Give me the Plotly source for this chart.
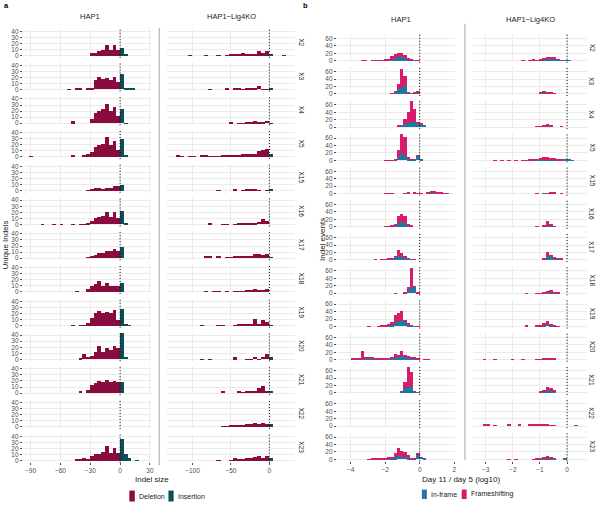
import plotly.graph_objects as go
from plotly.subplots import make_subplots

ROWS = ["X2", "X3", "X4", "X5", "X15", "X16", "X17", "X18", "X19", "X20", "X21", "X22", "X23"]
COL_TITLES = ["HAP1", "HAP1\u2212Lig4KO"]

# bin widths (data units) per column
A_BW_HAP1 = 3.8
A_BW_LIG = 5.3
B_BW_HAP1 = 0.19
B_BW_LIG = 0.13

# ---------------- Panel a: indel size histograms ----------------
# deletion lists: bin k covers [-(k+1)*bw, -k*bw]; insertion lists: bin j covers [j*bw, (j+1)*bw]
A_DEL_HAP1 = {
    "X2": [10, 18, 10, 18, 10, 7, 5, 4],
    "X3": [12, 20, 15, 19, 18, 20, 15, 3, 3, 0, 2, 3, 0, 1],
    "X4": [11, 26, 20, 31, 24, 20, 17, 7, 0, 0, 0, 0, 3],
    "X5": [12, 26, 20, 33, 22, 20, 17, 8, 5, 3, 0, 0, 2, 0, 0, 0, 0, 0, 0, 0, 0, 0, 0, 1],
    "X15": [8, 7, 5, 4, 3, 5, 5, 2, 1],
    "X16": [10, 20, 12, 20, 14, 12, 10, 6, 3, 1, 1, 0, 1, 0, 0, 1, 0, 1, 0, 0, 1],
    "X17": [12, 15, 12, 11, 9, 8, 5, 3, 1],
    "X18": [9, 9, 10, 15, 10, 18, 13, 10, 4, 0, 0, 1],
    "X19": [10, 25, 20, 23, 20, 24, 21, 13, 4, 1, 1, 0, 1],
    "X20": [18, 22, 15, 18, 12, 22, 12, 6, 4, 9, 2],
    "X21": [19, 20, 18, 22, 19, 20, 17, 13, 5, 0, 4],
    "X22": [],
    "X23": [12, 20, 12, 24, 14, 10, 10, 8, 2, 4, 2, 2],
}
A_INS_HAP1 = {
    "X2": [12, 2], "X3": [25, 3, 3, 2], "X4": [23, 1], "X5": [30, 3], "X15": [9],
    "X16": [22, 2], "X17": [18], "X18": [14], "X19": [27, 3, 1], "X20": [43, 4],
    "X21": [18], "X22": [], "X23": [36, 10, 5, 0, 1],
}
A_DEL_LIG = {
    "X2": [8, 4, 7, 3, 3, 2, 4, 3, 3, 2, 1, 0, 1, 0, 0, 1, 0, 0, 0, 1],
    "X3": [1, 1, 5, 3, 2, 2, 1, 2, 2, 0, 2, 0, 0, 0, 1],
    "X4": [4, 2, 2, 3, 2, 2, 1, 1, 0, 2],
    "X5": [13, 11, 9, 5, 4, 4, 4, 3, 3, 2, 2, 2, 1, 1, 1, 2, 2, 0, 1, 1, 0, 1, 2],
    "X15": [1, 0, 1, 2, 2, 2, 1, 0, 2, 0, 0, 0, 1],
    "X16": [5, 9, 4, 3, 3, 2, 2, 2, 1, 0, 1, 1, 0, 0, 2],
    "X17": [7, 5, 6, 6, 4, 3, 2, 2, 2, 1, 1, 0, 2, 0, 2, 2],
    "X18": [4, 3, 3, 5, 2, 2, 1, 1, 1, 0, 1, 0, 1, 1, 0, 1],
    "X19": [6, 10, 3, 11, 3, 3, 2, 2, 1, 0, 0, 1, 1, 0, 0, 0, 1],
    "X20": [8, 4, 1, 4, 1, 1, 0, 0, 3, 0, 0, 0, 0, 0, 1, 0, 1],
    "X21": [4, 11, 9, 4, 2, 2, 1, 4, 0, 0, 0, 2],
    "X22": [5, 7, 5, 7, 4, 4, 3, 3, 2, 2, 1, 1],
    "X23": [7, 5, 8, 6, 4, 4, 3, 3, 4, 1, 0, 0, 1],
}
A_INS_LIG = {
    "X2": [2, 0, 0, 1], "X3": [2], "X4": [1], "X5": [4], "X15": [2], "X16": [],
    "X17": [1], "X18": [], "X19": [1], "X20": [3], "X21": [3], "X22": [5], "X23": [5],
}

# ---------------- Panel b: day11/day5 ratio histograms ----------------
# *_NEG: bin k covers [-(k+1)*bw, -k*bw]; *_POS: bin j covers [j*bw, (j+1)*bw]
B_INF_HAP1_NEG = {
    "X2": [0, 1, 1, 3, 8, 10, 9, 6, 3, 1, 1],
    "X3": [4, 1, 1, 1, 20, 17, 12, 2],
    "X4": [8, 15, 15, 12, 8, 2, 1],
    "X5": [13, 2, 2, 4, 12, 20, 8, 1],
    "X15": [0, 1, 0, 2],
    "X16": [0, 0, 1, 2, 10, 12, 10, 2, 1],
    "X17": [0, 0, 1, 2, 7, 9, 10, 4, 2, 1],
    "X18": [1, 18, 16, 8, 1],
    "X19": [0, 1, 2, 5, 12, 16, 15, 10, 5, 2, 1, 1],
    "X20": [1, 3, 4, 5, 6, 10, 6, 5, 3, 2, 1, 1, 1, 2, 2, 2, 2, 3, 1, 1, 1],
    "X21": [1, 2, 18, 15, 12, 2],
    "X22": [],
    "X23": [15, 3, 1, 4, 6, 7, 8, 5, 2, 2, 1, 1, 0, 1],
}
B_FS_HAP1_NEG = {
    "X2": [1, 0, 1, 2, 7, 12, 12, 13, 9, 2, 4, 1, 1, 1, 1, 0, 1, 1],
    "X3": [1, 1, 0, 2, 27, 51, 16, 3, 1],
    "X4": [2, 34, 55, 28, 14, 2, 1],
    "X5": [1, 1, 2, 6, 51, 50, 19, 2, 1, 1, 1],
    "X15": [1, 1, 0, 1, 1, 0, 0, 0, 1, 1, 1],
    "X16": [0, 0, 1, 4, 20, 22, 20, 3, 2, 1, 1],
    "X17": [0, 1, 0, 1, 3, 11, 17, 6, 2, 1, 1, 1, 0, 1],
    "X18": [1, 2, 53, 9, 1, 0, 0, 1],
    "X19": [1, 0, 1, 3, 6, 27, 22, 21, 7, 3, 1, 1, 1, 0, 0, 1],
    "X20": [1, 2, 4, 3, 6, 12, 6, 10, 5, 1, 2, 2, 2, 2, 3, 3, 4, 20, 2, 1, 1],
    "X21": [0, 1, 39, 54, 17, 1],
    "X22": [],
    "X23": [1, 1, 2, 8, 14, 15, 23, 11, 5, 4, 2, 2, 2, 1, 2, 1],
}
B_INF_HAP1_POS = {
    "X2": [], "X3": [], "X4": [7, 5], "X5": [2], "X15": [0, 0, 1, 2, 2, 1],
    "X16": [], "X17": [], "X18": [], "X19": [], "X20": [], "X21": [], "X22": [], "X23": [6, 2],
}
B_FS_HAP1_POS = {
    "X2": [], "X3": [], "X4": [1, 0], "X5": [0], "X15": [1, 0, 3, 4, 3, 2, 2, 1, 1],
    "X16": [], "X17": [], "X18": [], "X19": [], "X20": [0, 1, 1], "X21": [], "X22": [], "X23": [1, 0],
}
B_INF_LIG_NEG = {
    "X2": [1, 0, 2, 5, 6, 5, 2, 1],
    "X3": [0, 0, 0, 0, 1, 1, 2, 1],
    "X4": [0, 0, 0, 0, 1, 2, 1],
    "X5": [3, 1, 1, 3, 3, 4, 3, 2, 2, 1, 1],
    "X15": [0, 0, 0, 1, 1, 0, 1],
    "X16": [0, 0, 0, 0, 3, 3, 1],
    "X17": [0, 1, 2, 4, 7, 10, 1],
    "X18": [0, 0, 1, 2, 3, 2, 1],
    "X19": [0, 0, 0, 1, 3, 7, 4, 1, 1],
    "X20": [0, 0, 0, 1, 1, 1, 1],
    "X21": [0, 0, 0, 2, 6, 8, 4, 1],
    "X22": [0, 0, 0, 0, 0, 0, 1, 1, 1, 0, 1, 0, 0, 0, 0, 0, 0, 0, 0, 0, 0, 0, 1, 1],
    "X23": [3, 0, 0, 2, 3, 4, 3, 2, 1],
}
B_FS_LIG_NEG = {
    "X2": [0, 1, 1, 3, 5, 4, 3, 1, 1, 2, 1, 0, 1],
    "X3": [0, 0, 0, 1, 1, 1, 3, 4],
    "X4": [0, 1, 0, 0, 2, 4, 2, 1, 1],
    "X5": [0, 1, 2, 3, 4, 5, 5, 3, 2, 1, 1, 1, 1, 0, 1, 0, 1, 0, 1, 0, 1],
    "X15": [0, 1, 0, 1, 1, 1, 0, 0, 1],
    "X16": [0, 0, 0, 1, 5, 13, 1, 0, 1],
    "X17": [0, 1, 2, 4, 6, 12, 1],
    "X18": [0, 0, 1, 2, 5, 3, 1, 1, 1, 0, 0, 1],
    "X19": [0, 0, 1, 2, 3, 7, 4, 2, 1, 0, 0, 2],
    "X20": [0, 0, 0, 1, 1, 1, 1, 1, 1, 0, 0, 0, 1, 0, 0, 1, 0, 0, 0, 0, 1, 0, 0, 1],
    "X21": [0, 0, 0, 3, 6, 9, 4, 1],
    "X22": [0, 0, 0, 1, 1, 2, 1, 2, 2, 2, 1, 0, 0, 2, 0, 0, 2, 0, 0, 0, 1, 0, 4, 5],
    "X23": [0, 0, 0, 2, 4, 5, 4, 2, 2, 1, 0, 0, 0, 0, 1, 0, 1],
}
B_INF_LIG_POS = {
    "X2": [1], "X3": [], "X4": [], "X5": [3, 1], "X15": [], "X16": [], "X17": [],
    "X18": [], "X19": [], "X20": [], "X21": [], "X22": [], "X23": [],
}
B_FS_LIG_POS = {
    "X2": [0], "X3": [], "X4": [], "X5": [0, 0], "X15": [], "X16": [], "X17": [],
    "X18": [], "X19": [], "X20": [], "X21": [], "X22": [0, 0, 1], "X23": [],
}

# ---------------- styling ----------------
C_DEL = "#8a0b3e"
C_INS = "#0e4d5a"
C_INF = "#1c7aa0"
C_FS = "#d81b6b"
GRID = "#ebebeb"
TICKC = "#4d4d4d"
TXT = "#1a1a1a"
FONT = "Liberation Sans"
W, H = 600, 505

COL_X_PX = [(23.5, 152.0), (168.0, 296.7), (339.0, 457.0), (475.7, 590.0)]
COL_XRANGE = [(-97.2, 31.3), (-133.0, 33.6), (-4.78, 2.03), (-3.46, 0.74)]
COL_XTICKS = [[-90, -60, -30, 0, 30], [-100, -50, 0], [-4, -2, 0, 2], [-3, -2, -1, 0]]
A_YR = (-2.15, 44.1)
B_YR = (-3.4, 72.0)


def fmt(v):
    return ("\u2212" + str(abs(v))) if v < 0 else str(v)


def row_px(col, r):
    if col < 2:
        base = 55.0 + 33.94 * r
        return base - 26.8, base + 1.3
    base = 60.0 + 33.42 * r
    return base - 26.8, base + 1.26


def centers(n, bw, sign):
    return [sign * (k + 0.5) * bw for k in range(n)]


def ann(px, py, text, size=7, angle=0, xanchor="center", color=TXT):
    return dict(x=px / W, y=1 - py / H, xref="paper", yref="paper", text=text,
                showarrow=False, textangle=angle, xanchor=xanchor, yanchor="middle",
                font=dict(size=size, color=color, family=FONT))


fig = make_subplots(rows=13, cols=4, horizontal_spacing=0.01, vertical_spacing=0.002)

shapes = []
annotations = []

for r, name in enumerate(ROWS):
    for c in range(4):
        n = r * 4 + c + 1
        xa = "xaxis" if n == 1 else f"xaxis{n}"
        ya = "yaxis" if n == 1 else f"yaxis{n}"
        xr = "x" if n == 1 else f"x{n}"
        yr = "y" if n == 1 else f"y{n}"

        if c == 0:
            dl, il, bw = A_DEL_HAP1[name], A_INS_HAP1[name], A_BW_HAP1
        elif c == 1:
            dl, il, bw = A_DEL_LIG[name], A_INS_LIG[name], A_BW_LIG
        if c < 2:
            fig.add_trace(go.Bar(x=centers(len(dl), bw, -1), y=dl, width=bw,
                                 marker=dict(color=C_DEL, line=dict(width=0)),
                                 showlegend=False, name="Deletion"), row=r + 1, col=c + 1)
            fig.add_trace(go.Bar(x=centers(len(il), bw, 1), y=il, width=bw,
                                 marker=dict(color=C_INS, line=dict(width=0)),
                                 showlegend=False, name="Insertion"), row=r + 1, col=c + 1)
        else:
            if c == 2:
                inn, fsn = B_INF_HAP1_NEG[name], B_FS_HAP1_NEG[name]
                inp, fsp = B_INF_HAP1_POS[name], B_FS_HAP1_POS[name]
                bw = B_BW_HAP1
            else:
                inn, fsn = B_INF_LIG_NEG[name], B_FS_LIG_NEG[name]
                inp, fsp = B_INF_LIG_POS[name], B_FS_LIG_POS[name]
                bw = B_BW_LIG
            nn = max(len(inn), len(fsn))
            npos = max(len(inp), len(fsp))
            inn = list(inn) + [0] * (nn - len(inn))
            fsn = list(fsn) + [0] * (nn - len(fsn))
            inp = list(inp) + [0] * (npos - len(inp))
            fsp = list(fsp) + [0] * (npos - len(fsp))
            xs = centers(nn, bw, -1) + centers(npos, bw, 1)
            fig.add_trace(go.Bar(x=xs, y=inn + inp, width=bw,
                                 marker=dict(color=C_INF, line=dict(width=0)),
                                 showlegend=False, name="In-frame"), row=r + 1, col=c + 1)
            fig.add_trace(go.Bar(x=xs, y=fsn + fsp, width=bw,
                                 marker=dict(color=C_FS, line=dict(width=0)),
                                 showlegend=False, name="Frameshifting"), row=r + 1, col=c + 1)

        top, bot = row_px(c, r)
        x0, x1 = COL_X_PX[c]
        bottom_row = (r == len(ROWS) - 1)
        fig.layout[xa].update(
            domain=[x0 / W, x1 / W], range=list(COL_XRANGE[c]),
            tickvals=COL_XTICKS[c], ticktext=[fmt(v) for v in COL_XTICKS[c]],
            showticklabels=bottom_row, ticks="outside" if bottom_row else "",
            ticklen=2.5, tickwidth=0.6, tickcolor=TICKC,
            tickfont=dict(size=6.5, color=TICKC, family=FONT),
            showgrid=True, gridcolor=GRID, gridwidth=0.8, zeroline=False, showline=False,
            fixedrange=True,
        )
        yt = [0, 10, 20, 30, 40] if c < 2 else [0, 20, 40, 60]
        show_y = c in (0, 2)
        fig.layout[ya].update(
            domain=[1 - bot / H, 1 - top / H], range=list(A_YR if c < 2 else B_YR),
            tickvals=yt, showticklabels=show_y, ticks="outside" if show_y else "",
            ticklen=2.5, tickwidth=0.6, tickcolor=TICKC,
            tickfont=dict(size=6.5, color=TICKC, family=FONT),
            showgrid=True, gridcolor=GRID, gridwidth=0.8, zeroline=False, showline=False,
            fixedrange=True,
        )
        # dotted zero line
        shapes.append(dict(type="line", xref=xr, yref=f"{yr} domain", x0=0, x1=0, y0=-0.03, y1=1.03,
                           line=dict(color="black", width=1, dash="1px,2px"), layer="above"))

    # strip labels
    for c, sx in ((1, 303.0), (3, 595.0)):
        top, bot = row_px(c, r)
        annotations.append(ann(sx, (top + bot) / 2, name, size=6.5, angle=90))

# column titles
for c, (tx, ty) in enumerate([(90.5, 15.7), (232.3, 15.7), (403.5, 18.3), (533.0, 18.3)]):
    annotations.append(ann(tx, ty, COL_TITLES[c % 2], size=7.5))

# panel letters
annotations.append(ann(2, 5, "<b>a</b>", size=7.5, xanchor="left", color="black"))
annotations.append(ann(303, 5, "<b>b</b>", size=7.5, xanchor="left", color="black"))

# axis titles
annotations.append(ann(153, 481.7, "Indel size", size=8))
annotations.append(ann(463, 481.7, "Day 11 / day 5 (log10)", size=8))
annotations.append(ann(6, 245, "Unique Indels", size=8, angle=-90))
annotations.append(ann(324, 240, "Indel events", size=8, angle=-90))

# legends (keys + labels)
for kx0, kx1, ky0, ky1, col, label, lx in [
    (130.0, 135.5, 492.5, 503.5, C_DEL, "Deletion", 137.5),
    (169.3, 174.5, 492.5, 503.5, C_INS, "Insertion", 176.5),
    (424.0, 429.0, 491.5, 501.0, C_INF, "In-frame", 431.0),
    (464.0, 469.0, 491.5, 501.0, C_FS, "Frameshifting", 471.0),
]:
    shapes.append(dict(type="rect", xref="paper", yref="paper", x0=kx0 / W, x1=kx1 / W,
                       y0=1 - ky1 / H, y1=1 - ky0 / H, fillcolor=col, line=dict(width=0)))
    annotations.append(ann(lx, (ky0 + ky1) / 2, label, size=7, xanchor="left"))

# separators between columns
shapes.append(dict(type="line", xref="paper", yref="paper", x0=160 / W, x1=160 / W,
                   y0=1 - 467 / H, y1=1 - 27 / H, line=dict(color="#a6a6a6", width=1)))
shapes.append(dict(type="line", xref="paper", yref="paper", x0=467.3 / W, x1=467.3 / W,
                   y0=1 - 462 / H, y1=1 - 23 / H, line=dict(color="#a6a6a6", width=1)))

fig.update_layout(
    width=W, height=H, margin=dict(l=0, r=0, t=0, b=0),
    paper_bgcolor="white", plot_bgcolor="white",
    barmode="stack", showlegend=False,
    shapes=shapes, annotations=annotations,
    font=dict(family=FONT),
)

fig.write_html("out.html", config={"displayModeBar": False},
               post_script="document.body.style.margin='0px';document.body.style.overflow='hidden';")
